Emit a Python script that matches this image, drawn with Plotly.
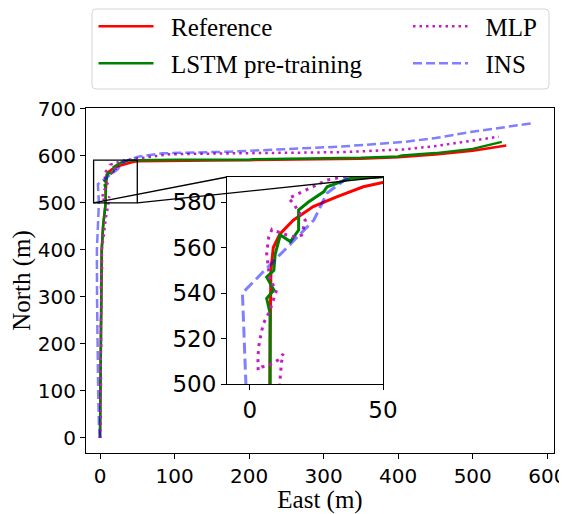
import plotly.graph_objects as go

# ---------------- data (East, North in metres) ----------------
ref_east = [0, 0.2, 0.4, 0.6, 0.8, 1.0, 1.0, 1.5, 2.2, 4.0, 6.0, 7.5, 7.6, 7.7, 7.9, 8.8, 11.3, 16.3, 23.8, 32.6, 42.6, 49.9,
            100, 150, 200, 250, 300, 350, 400, 450, 500, 545]
ref_north = [0, 50, 100, 150, 200, 250, 300, 350, 400, 450, 480, 500, 520, 535, 550, 560, 566, 572, 578, 582.3, 586.7, 588.6,
             590, 590.5, 591, 591.5, 592, 594, 597, 603, 611, 622]

lstm_east = [0, 0.3, 0.5, 0.5, 0.8, 1.2, 1.2, 1.6, 2.4, 4.2, 6.2, 7.6, 7.6, 6.3, 9.0, 6.3, 9.0, 9.5, 11.4, 15.2, 18.3, 18.3,
             22.0, 27.7, 29.0, 37.7, 48.9, 100, 150, 155, 200, 205, 250, 300, 350, 400, 405, 450, 500, 539]
lstm_north = [0, 50, 100, 150, 200, 250, 300, 350, 400, 450, 480, 500, 531, 537.6, 541.3, 547, 550, 557, 565.5, 562.6, 567.7, 576.5,
              580, 584.5, 586.7, 590.4, 591, 592, 592, 591, 592, 593, 593.5, 594, 596, 599, 601, 606, 615, 630]

mlp_east = [0, 1.2, 0.3, 1.5, 0.5, 1.8, 0.8, 2.2, 1.2, 2.8, 2.5, 5.5, 8.0, 11.0, 11.3, 11.9, 12.5, 10.5, 7.0, 4.4, 3.1, 3.0,
            3.5, 5.0, 7.5, 10.0, 7.5, 6.9, 6.3, 7.1, 8.3, 12.0, 16.4, 19.5, 20.8, 18.3, 16.4, 14.5, 24.0, 29.0,
            53, 93, 150, 200, 250, 324, 409, 450, 497, 535]
mlp_north = [0, 40, 80, 120, 160, 200, 240, 280, 320, 360, 400, 440, 470, 495, 501.8, 509.8, 513.2, 510.5, 508, 507.5, 506, 512,
             518, 526.4, 532.2, 541.3, 545.7, 551.6, 557.4, 564.7, 568, 566.2, 564.7, 565.5, 572, 575.7, 579.4, 581.6, 586.7, 589.7,
             595, 603.6, 605, 606, 607, 608, 614, 621, 632, 641]

ins_east = [0, -1.5, -2.5, -3.5, -4.0, -4.2, -2.5, -1.5, -2.8, 24.0, 29.0, 36.5, 51, 84, 173, 250, 324, 409, 450, 497, 540, 580]
ins_north = [0, 30, 100, 200, 300, 400, 470, 500, 540, 572, 584, 590.5, 598.5, 605.7, 609, 614, 620, 630, 638, 651, 660, 669.5]

names = ["Reference", "LSTM pre-training", "MLP", "INS"]

main_xrange = [-18.8, 609]
main_yrange = [-32, 702]
main_xticks = [0, 100, 200, 300, 400, 500, 600]
main_yticks = [0, 100, 200, 300, 400, 500, 600, 700]

zoom_xrange = [-8.6, 50]
zoom_yrange = [500, 591]
zoom_xticks = [0, 50]
zoom_yticks = [500, 520, 540, 560, 580]

# ---------------- layout geometry ----------------
OFF = 8                      # page body margin of the html page
W, H = 567 - OFF, 514 - OFF
ML, MR, MT, MB = 86 - OFF, 13, 108 - OFF, 61
PW, PH = W - ML - MR, H - MT - MB


def px2paper_x(px):
    """reference-image pixel x -> paper x"""
    return (px - OFF - ML) / PW


def px2paper_y(py):
    """reference-image pixel y -> paper y"""
    return (H - MB - (py - OFF)) / PH


SERIF = "Liberation Serif, Times New Roman, serif"
SANS = "DejaVu Sans, sans-serif"
NB = "\u00a0\u00a0"

styles = {
    "Reference": dict(color="#ff0000", dash="solid"),
    "LSTM pre-training": dict(color="#008000", dash="solid"),
    "MLP": dict(color="#c21cc2", dash="dot"),
    "INS": dict(color="rgba(0,0,255,0.5)", dash="dash"),
}
series = {
    "Reference": (ref_east, ref_north),
    "LSTM pre-training": (lstm_east, lstm_north),
    "MLP": (mlp_east, mlp_north),
    "INS": (ins_east, ins_north),
}
# legend slot: (legend id, left px, row-centre px) in reference pixels
legend_slot = {
    "Reference": ("legend", 93.5, 28.5),
    "LSTM pre-training": ("legend2", 93.5, 65.5),
    "MLP": ("legend3", 408, 28.5),
    "INS": ("legend4", 408, 65.5),
}

fig = go.Figure()
for nm in names:
    e, n = series[nm]
    st = styles[nm]
    dash_main = {"solid": "solid", "dot": "2.5px,4px", "dash": "9px,4px"}[st["dash"]]
    fig.add_trace(go.Scatter(
        x=e, y=n, mode="lines", name=NB + nm,
        line=dict(color=st["color"], width=2.5, dash=dash_main),
        xaxis="x", yaxis="y", legend=legend_slot[nm][0], showlegend=True,
    ))
for nm in names:
    e, n = series[nm]
    st = styles[nm]
    dash_in = {"solid": "solid", "dot": "3px,5px", "dash": "11px,5px"}[st["dash"]]
    fig.add_trace(go.Scatter(
        x=e, y=n, mode="lines", name=nm,
        line=dict(color=st["color"], width=3, dash=dash_in),
        xaxis="x2", yaxis="y2", showlegend=False,
    ))

axis_common = dict(showgrid=False, zeroline=False, showline=True, linecolor="black", linewidth=1,
                   mirror=True, ticks="outside", ticklen=5, tickwidth=1, tickcolor="black",
                   ticklabeloverflow="allow")

legends = {}
for nm in names:
    lid, lx, ly = legend_slot[nm]
    legends[lid] = dict(x=px2paper_x(lx), y=px2paper_y(ly - 25), xanchor="left", yanchor="top",
                        orientation="v", font=dict(family=SERIF, size=25, color="black"),
                        bgcolor="rgba(0,0,0,0)", borderwidth=0, itemwidth=55)

fig.update_layout(
    width=W, height=H,
    margin=dict(l=ML, r=MR, t=MT, b=MB, autoexpand=False),
    paper_bgcolor="white", plot_bgcolor="rgba(0,0,0,0)",
    xaxis=dict(range=main_xrange, tickvals=main_xticks, domain=[0, 1], anchor="y",
               tickfont=dict(family=SANS, size=20, color="black"),
               title=dict(text="East (m)", font=dict(family=SERIF, size=25, color="black"), standoff=9),
               **axis_common),
    yaxis=dict(range=main_yrange, tickvals=main_yticks, domain=[0, 1], anchor="x",
               tickfont=dict(family=SANS, size=20, color="black"),
               title=dict(text="North (m)", font=dict(family=SERIF, size=25, color="black"), standoff=6),
               **axis_common),
    xaxis2=dict(range=zoom_xrange, tickvals=zoom_xticks, domain=[px2paper_x(227), px2paper_x(383)], anchor="y2",
                tickfont=dict(family=SANS, size=23, color="black"), **axis_common),
    yaxis2=dict(range=zoom_yrange, tickvals=zoom_yticks, domain=[px2paper_y(384), px2paper_y(177)], anchor="x2",
                tickfont=dict(family=SANS, size=23, color="black"), **axis_common),
    showlegend=True,
    **legends,
)

# legend frame with rounded corners (paper coords)
fx0, fx1 = px2paper_x(92), px2paper_x(549)
fy0, fy1 = px2paper_y(89), px2paper_y(9)
rx, ry = 4 / PW, 4 / PH
frame_path = (f"M {fx0 + rx},{fy0} L {fx1 - rx},{fy0} Q {fx1},{fy0} {fx1},{fy0 + ry} "
              f"L {fx1},{fy1 - ry} Q {fx1},{fy1} {fx1 - rx},{fy1} "
              f"L {fx0 + rx},{fy1} Q {fx0},{fy1} {fx0},{fy1 - ry} "
              f"L {fx0},{fy0 + ry} Q {fx0},{fy0} {fx0 + rx},{fy0} Z")
fig.add_shape(type="path", xref="paper", yref="paper", path=frame_path,
              line=dict(color="#d5d5d5", width=1), fillcolor="rgba(0,0,0,0)", layer="below")

# zoom rectangle on main axes
fig.add_shape(type="rect", xref="x", yref="y",
              x0=zoom_xrange[0], x1=zoom_xrange[1], y0=zoom_yrange[0], y1=zoom_yrange[1],
              line=dict(color="black", width=1.3), layer="above")


def main_paper_x(v):
    return (v - main_xrange[0]) / (main_xrange[1] - main_xrange[0])


def main_paper_y(v):
    return (v - main_yrange[0]) / (main_yrange[1] - main_yrange[0])


ins_dom_x = fig.layout.xaxis2.domain
ins_dom_y = fig.layout.yaxis2.domain
fig.add_shape(type="line", xref="paper", yref="paper",
              x0=main_paper_x(zoom_xrange[0]), y0=main_paper_y(zoom_yrange[0]),
              x1=ins_dom_x[0], y1=ins_dom_y[1], line=dict(color="black", width=1.3), layer="above")
fig.add_shape(type="line", xref="paper", yref="paper",
              x0=main_paper_x(zoom_xrange[1]), y0=main_paper_y(zoom_yrange[0]),
              x1=ins_dom_x[1], y1=ins_dom_y[1], line=dict(color="black", width=1.3), layer="above")

fig.write_html("out.html")
